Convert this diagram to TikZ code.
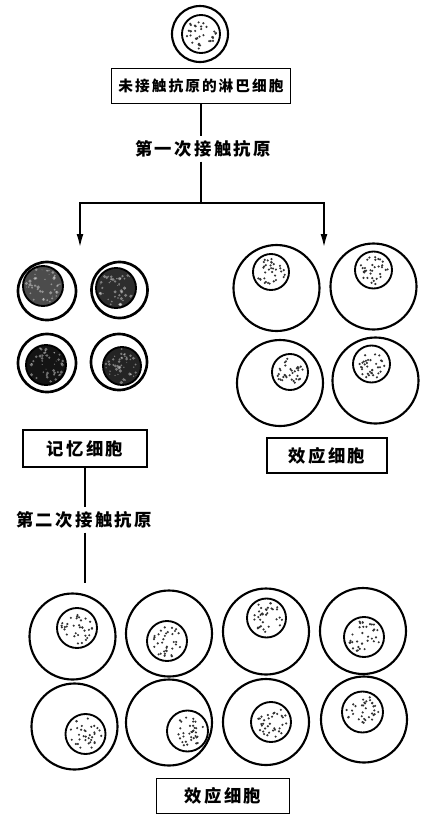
\documentclass[tikz,border=0pt]{standalone}
\usepackage{fontspec}
\newfontfamily\cjk[LetterSpace=14]{Noto Sans CJK SC}
\usetikzlibrary{arrows.meta}

\tikzset{
    cellwall/.style={line width=1.6pt},
    memwall/.style={line width=2pt},
    nucwall/.style={line width=1.4pt},
    dotfill/.style={fill=black!80},
    namebox/.style={draw, line width=1.1pt, inner sep=0pt,
        font=\cjk\bfseries\fontsize{13pt}{15pt}\selectfont},
    steplabel/.style={inner sep=3pt,
        font=\cjk\bfseries\fontsize{13pt}{15pt}\selectfont},
    link/.style={line width=2pt},
    arr/.style={link, -{Latex[length=12pt,width=5pt]}},
}

% stippled nucleus: centre x, centre y, radius
\newcommand\dotnuc[3]{%
    \draw[nucwall] (#1,#2) circle (#3);
    \foreach \k in {1,...,34}{
        \pgfmathsetmacro\dotang{360*rnd}
        \pgfmathsetmacro\dotrad{0.8*#3*sqrt(rnd)}
        \fill[dotfill] ([shift={(#1,#2)}]\dotang:\dotrad) circle (1.2);
    }
}
% effector cell: cell x, cell y, nucleus x, nucleus y, nucleus radius
\newcommand\effcell[5]{%
    \draw[cellwall] (#1,#2) circle (43);
    \dotnuc{#3}{#4}{#5}
}
% memory cell: cell x, y, radius, nucleus x, y, radius, darkness
\newcommand\memcell[7]{%
    \draw[memwall] (#1,#2) circle (#3);
    \fill[black!#7] (#4,#5) circle (#6);
    \foreach \k in {1,...,45}{
        \pgfmathsetmacro\dotang{360*rnd}
        \pgfmathsetmacro\dotrad{0.9*#6*sqrt(rnd)}
        \pgfmathsetmacro\spot{0.4+1.4*rnd}
        \fill[white, opacity=0.4] ([shift={(#4,#5)}]\dotang:\dotrad) circle (\spot);
    }
    \draw[nucwall] (#4,#5) circle (#6);
}

\begin{document}
\begin{tikzpicture}[x=0.75pt,y=-0.75pt]
    \useasboundingbox (0,0) rectangle (421,815);
    \pgfmathsetseed{1234}

    % resting lymphocyte
    \draw[cellwall] (200,34) circle (28);
    \dotnuc{201}{34}{19}

    \node[namebox, minimum width=134pt, minimum height=26pt,
        font=\cjk\bfseries\fontsize{11pt}{13pt}\selectfont] (naive) at (201,86) {未接触抗原的淋巴细胞};
    \node[steplabel] (first) at (203,149) {第一次接触抗原};
    \coordinate (split) at (201,203);
    \coordinate (memtop) at (80,250);
    \coordinate (efftop) at (324,250);
    \draw[link] (naive.south) -- (naive.south |- first.north);
    \draw[link] (first.south -| naive.south) -- (split);
    \draw[arr] (split) -| (memtop);
    \draw[arr] (split) -| (efftop);

    % memory cells
    \memcell{47}{291}{29}{43}{286}{20}{70}
    \memcell{119.5}{290}{28}{116}{288}{20}{82}
    \memcell{47}{363}{29}{46}{365}{20}{92}
    \memcell{119}{362}{28}{122}{366}{19}{86}

    % effector cells, first contact
    \effcell{276.5}{288}{271}{272}{18}
    \effcell{373.5}{286.5}{373.5}{270}{18.5}
    \effcell{280}{383}{290}{372}{18}
    \effcell{375.5}{380.5}{371.5}{364}{18.5}

    \node[namebox, minimum width=93pt, minimum height=27.5pt] (mem) at (85,448.5) {记忆细胞};
    \node[namebox, minimum width=90pt, minimum height=26pt] (eff) at (327,455.5) {效应细胞};

    \node[steplabel] (second) at (84,520) {第二次接触抗原};
    \coordinate (memend) at (85,583);
    \draw[link] (mem.south) -- (mem.south |- second.north);
    \draw[link] (second.south -| mem.south) -- (memend);

    % effector cells, second contact
    \effcell{72.5}{636.5}{77}{628}{20}
    \effcell{169}{633.5}{167}{641}{20}
    \effcell{266}{631.5}{266.5}{618}{19.5}
    \effcell{363}{631}{364}{637}{20}
    \effcell{74.5}{726.5}{85.5}{734}{20}
    \effcell{169}{722.5}{187.5}{731}{20.5}
    \effcell{266}{722}{271}{722}{20}
    \effcell{364}{719.5}{362.5}{712}{20.5}

    \node[namebox, minimum width=100pt, minimum height=26pt] (eff2) at (223,796) {效应细胞};
\end{tikzpicture}
\end{document}
